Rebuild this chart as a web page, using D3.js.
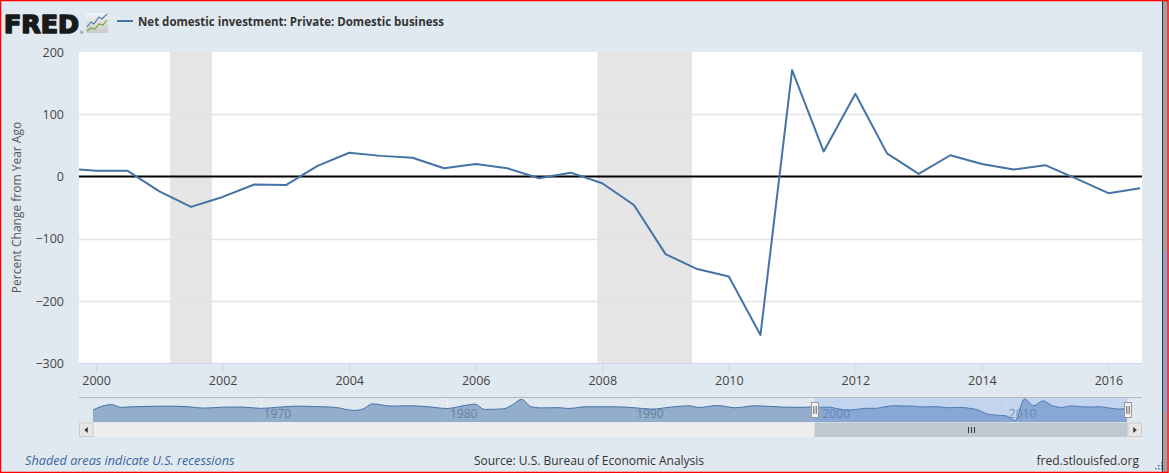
<!DOCTYPE html>
<html>
<head>
<meta charset="utf-8">
<script src="https://cdn.jsdelivr.net/npm/d3@7"></script>
<style>
  body { margin: 0; background: #e1e9f0; }
  text { font-family: "Open Sans", sans-serif; }
</style>
</head>
<body>
<div id="chart"></div>
<script>
// semiannual observations shown in the main window
const years = [1999.5, 2000, 2000.5, 2001, 2001.5, 2002, 2002.5, 2003, 2003.5, 2004, 2004.5,
  2005, 2005.5, 2006, 2006.5, 2007, 2007.5, 2008, 2008.5, 2009, 2009.5, 2010, 2010.5,
  2011, 2011.5, 2012, 2012.5, 2013, 2013.5, 2014, 2014.5, 2015, 2015.5, 2016, 2016.5];
const values = [13, 9, 9, -24, -49, -33, -13, -14, 17, 38, 33,
  30, 13, 20, 13, -3, 6, -11, -46, -125, -149, -161, -255,
  171, 40, 133, 37, 4, 34, 20, 11, 18, -4, -27, -19];

// earlier history, only visible in the navigator strip
const navYears = [1961, 1961.5, 1962, 1962.5, 1963, 1964, 1965, 1966, 1967, 1968, 1969, 1970,
  1971, 1972, 1973, 1974, 1975, 1975.5, 1976, 1977, 1978, 1979, 1980, 1981, 1981.5, 1982,
  1983, 1983.5, 1984, 1984.5, 1985, 1986, 1986.5, 1987.5, 1989, 1990, 1991, 1992, 1993,
  1993.5, 1994.5, 1995.5, 1996.5, 1998, 1999];
const navValues = [-48, 30, 60, 5, 15, 25, 30, 20, -10, 10, 12, -15,
  10, 30, 20, 5, -55, -25, 75, 30, 37, 17, -17, 45, 70, -35,
  -25, 50, 165, 20, -5, 0, -17, 17, 17, 0, -29, 10, 37,
  3, 42, -3, 37, 11, 5];

const recStart = [2001.17, 2007.92];
const recEnd = [2001.83, 2009.42];

const yTicks = [200, 100, 0, -100, -200, -300];
const xTicks = [2000, 2002, 2004, 2006, 2008, 2010, 2012, 2014, 2016];
const navTicks = [1970, 1980, 1990, 2000, 2010];

const seriesName = "Net domestic investment: Private: Domestic business";
const yTitle = "Percent Change from Year Ago";

const W = 1169, H = 473;
const plot = { left: 79, right: 1142, top: 52, bottom: 363 };
const nav = { left: 93, right: 1127.5, top: 398, bottom: 422 };

const svg = d3.select("#chart").append("svg")
  .attr("width", W).attr("height", H)
  .style("display", "block");

svg.append("rect").attr("width", W).attr("height", H).attr("fill", "#e1e9f0");

const x = d3.scaleLinear().domain([1999.73, 2016.53]).range([plot.left, plot.right]);
const y = d3.scaleLinear().domain([-300, 200]).range([plot.bottom, plot.top]);

// header
svg.append("text")
  .attr("x", 4).attr("y", 32.5)
  .attr("textLength", 75).attr("lengthAdjust", "spacingAndGlyphs")
  .style("font-family", "'DejaVu Sans', sans-serif")
  .style("font-weight", "bold").style("font-size", "24px")
  .attr("fill", "#1a1a1a").attr("stroke", "#1a1a1a").attr("stroke-width", 1.6)
  .attr("stroke-linejoin", "round")
  .text("FRED");
svg.append("text").attr("x", 80).attr("y", 34).style("font-size", "4px")
  .attr("fill", "#333").text("®");

const grad = svg.append("defs").append("linearGradient")
  .attr("id", "icon").attr("x1", 0).attr("y1", 0).attr("x2", 0).attr("y2", 1);
grad.append("stop").attr("offset", "0%").attr("stop-color", "#f4f4f4");
grad.append("stop").attr("offset", "100%").attr("stop-color", "#c9c9c9");
svg.append("rect").attr("x", 86).attr("y", 13).attr("width", 22).attr("height", 20)
  .attr("rx", 2).attr("fill", "url(#icon)");
svg.append("path").attr("d", "M87,27 L91,22 L94,24 L99,17 L102,19 L107,14")
  .attr("fill", "none").attr("stroke", "#4a7ebb").attr("stroke-width", 1.2);
svg.append("path").attr("d", "M87,31 L91,28 L95,29 L99,24 L103,25 L107,20")
  .attr("fill", "none").attr("stroke", "#78a83a").attr("stroke-width", 1.2);

svg.append("line").attr("x1", 117).attr("x2", 133).attr("y1", 21).attr("y2", 21)
  .attr("stroke", "#4572a7").attr("stroke-width", 2);
svg.append("text").attr("x", 138).attr("y", 25.5)
  .style("font-size", "11.5px").style("font-weight", "bold")
  .attr("fill", "#333").text(seriesName);

// plot background
svg.append("rect")
  .attr("x", plot.left).attr("y", plot.top)
  .attr("width", plot.right - plot.left).attr("height", plot.bottom - plot.top)
  .attr("fill", "#fff");

svg.append("clipPath").attr("id", "plotclip").append("rect")
  .attr("x", plot.left).attr("y", plot.top)
  .attr("width", plot.right - plot.left).attr("height", plot.bottom - plot.top);

// recessions
svg.append("g").selectAll("rect")
  .data(recStart.map((s, i) => [s, recEnd[i]]))
  .join("rect")
  .attr("x", d => x(d[0])).attr("y", plot.top)
  .attr("width", d => x(d[1]) - x(d[0])).attr("height", plot.bottom - plot.top)
  .attr("fill", "#e5e5e5");

// grid
svg.append("g").selectAll("line")
  .data(yTicks.filter(d => d !== 200 && d !== -300 && d !== 0))
  .join("line")
  .attr("x1", plot.left).attr("x2", plot.right)
  .attr("y1", d => Math.round(y(d)) + 0.5).attr("y2", d => Math.round(y(d)) + 0.5)
  .attr("stroke", "#e3e3e3").attr("stroke-width", 1.5);

// y axis labels
const yAxis = svg.append("g")
  .attr("transform", `translate(${plot.left - 15},0)`)
  .call(d3.axisLeft(y).tickValues(yTicks).tickSize(0).tickPadding(0).tickFormat(d3.format("d")));
yAxis.select(".domain").remove();
yAxis.selectAll("text")
  .attr("dy", "0.35em")
  .style("font-size", "12.5px").style("font-family", "'Open Sans', sans-serif")
  .attr("fill", "#444");

svg.append("text")
  .attr("transform", `translate(21,${(plot.top + plot.bottom) / 2}) rotate(-90)`)
  .attr("text-anchor", "middle")
  .style("font-size", "12px").attr("fill", "#555")
  .text(yTitle);

// x axis
const xAxis = svg.append("g")
  .attr("transform", `translate(0,${plot.bottom})`)
  .call(d3.axisBottom(x).tickValues(xTicks).tickSize(10).tickPadding(3).tickFormat(d3.format("d")));
xAxis.select(".domain")
  .attr("d", `M${plot.left},0.5H${plot.right}`)
  .attr("stroke", "#ccd6eb");
xAxis.selectAll(".tick line").attr("stroke", "#ccd6eb");
xAxis.selectAll("text")
  .style("font-size", "12.5px").style("font-family", "'Open Sans', sans-serif")
  .attr("fill", "#444");

// zero line
svg.append("line")
  .attr("x1", plot.left).attr("x2", plot.right)
  .attr("y1", y(0)).attr("y2", y(0))
  .attr("stroke", "#000").attr("stroke-width", 2);

// series
const line = d3.line().x((d, i) => x(years[i])).y(d => y(d));
svg.append("path")
  .datum(values)
  .attr("clip-path", "url(#plotclip)")
  .attr("d", line)
  .attr("fill", "none")
  .attr("stroke", "#4572a7")
  .attr("stroke-width", 2)
  .attr("stroke-linejoin", "round");

// navigator
const nx = d3.scaleLinear().domain([1961, 2016.53]).range([nav.left, nav.right]);
const ny = d3.scaleLinear().domain([-255, 171]).range([nav.bottom - 1.5, nav.top + 1]);
const navAllYears = navYears.concat(years);
const navAllValues = navValues.concat(values);

svg.append("g").selectAll("line")
  .data(navTicks)
  .join("line")
  .attr("x1", d => nx(d) + 0.5).attr("x2", d => nx(d) + 0.5)
  .attr("y1", nav.top).attr("y2", nav.bottom)
  .attr("stroke", "#eef2f6");

svg.append("g").selectAll("text")
  .data(navTicks)
  .join("text")
  .attr("x", d => nx(d) + 3).attr("y", 418)
  .style("font-size", "12px").attr("fill", "#8a8f96")
  .text(d => d);

svg.append("clipPath").attr("id", "navclip").append("rect")
  .attr("x", nav.left).attr("y", nav.top)
  .attr("width", nav.right - nav.left).attr("height", nav.bottom - nav.top);

const navArea = d3.area()
  .x((d, i) => nx(navAllYears[i]))
  .y0(nav.bottom).y1(d => ny(d))
  .curve(d3.curveMonotoneX);
const navLine = d3.line()
  .x((d, i) => nx(navAllYears[i]))
  .y(d => ny(d))
  .curve(d3.curveMonotoneX);

const navG = svg.append("g").attr("clip-path", "url(#navclip)");
navG.append("path").datum(navAllValues).attr("d", navArea)
  .attr("fill", "#4572a7").attr("fill-opacity", 0.5);
navG.append("path").datum(navAllValues).attr("d", navLine)
  .attr("fill", "none").attr("stroke", "#4572a7").attr("stroke-width", 1);

const selL = nx(x.domain()[0]), selR = nav.right;
svg.append("rect")
  .attr("x", selL).attr("y", nav.top)
  .attr("width", selR - selL).attr("height", nav.bottom - nav.top)
  .attr("fill", "rgb(102,153,230)").attr("fill-opacity", 0.25);

svg.append("line")
  .attr("x1", plot.left).attr("x2", plot.right)
  .attr("y1", nav.top - 0.5).attr("y2", nav.top - 0.5)
  .attr("stroke", "#b8b8bc");

// scrollbar
svg.append("rect")
  .attr("x", plot.left).attr("y", 422.5).attr("width", plot.right - plot.left).attr("height", 14.5)
  .attr("fill", "#eeeeee");
svg.append("rect")
  .attr("x", selL).attr("y", 422.5).attr("width", selR - selL).attr("height", 14.5)
  .attr("fill", "#bfc7d0");
[[plot.left, -1], [nav.right, 1]].forEach(([bx, dir]) => {
  const bw = 14.5;
  svg.append("rect").attr("x", bx + 0.5).attr("y", 423).attr("width", bw - 1).attr("height", 13.5)
    .attr("fill", "#e6e6e6").attr("stroke", "#cccccc");
  const cx = bx + bw / 2, cy = 430;
  svg.append("path")
    .attr("d", `M${cx + dir * 2},${cy} L${cx - dir * 1.5},${cy - 3} L${cx - dir * 1.5},${cy + 3} Z`)
    .attr("fill", "#333");
});
const gx = (selL + selR) / 2;
[-3, 0, 3].forEach(o => {
  svg.append("line").attr("x1", gx + o + 0.5).attr("x2", gx + o + 0.5)
    .attr("y1", 427).attr("y2", 433).attr("stroke", "#333");
});

// navigator handles
[selL, selR].forEach(hx => {
  svg.append("rect").attr("x", Math.round(hx) - 3.5).attr("y", 402.5)
    .attr("width", 7).attr("height", 15)
    .attr("fill", "#f2f2f2").attr("stroke", "#999");
  [-1, 1].forEach(o => {
    svg.append("line").attr("x1", Math.round(hx) + o * 1.2).attr("x2", Math.round(hx) + o * 1.2)
      .attr("y1", 406).attr("y2", 414).attr("stroke", "#333").attr("stroke-width", 0.8);
  });
});

// footer
svg.append("text").attr("x", 25).attr("y", 464.5)
  .style("font-size", "12.7px").style("font-style", "italic")
  .attr("fill", "#3a64a0").text("Shaded areas indicate U.S. recessions");
svg.append("text").attr("x", 589).attr("y", 464.5).attr("text-anchor", "middle")
  .style("font-size", "12px").attr("fill", "#333")
  .text("Source: U.S. Bureau of Economic Analysis");
svg.append("text").attr("x", 1139).attr("y", 464.5).attr("text-anchor", "end")
  .style("font-size", "12px").attr("fill", "#333")
  .text("fred.stlouisfed.org");

// resize grip
[[1161, 462], [1158, 465], [1161, 465], [1155, 468], [1158, 468], [1161, 468]].forEach(p => {
  svg.append("rect").attr("x", p[0]).attr("y", p[1]).attr("width", 1.5).attr("height", 1.5)
    .attr("fill", "#3a6fc4");
});

// window edge and frame
svg.append("rect").attr("x", 1162).attr("y", 0).attr("width", 1).attr("height", H).attr("fill", "#333");
svg.append("rect").attr("x", 1163).attr("y", 0).attr("width", 4).attr("height", H).attr("fill", "#a0a0a0");
svg.append("rect").attr("x", 1163).attr("y", 250).attr("width", 4).attr("height", 163).attr("fill", "#8ea4c8");
svg.append("rect").attr("x", 0.5).attr("y", 0.5).attr("width", W - 1.5).attr("height", H - 1)
  .attr("fill", "none").attr("stroke", "#ff0000").attr("stroke-width", 1.5);
</script>
</body>
</html>
